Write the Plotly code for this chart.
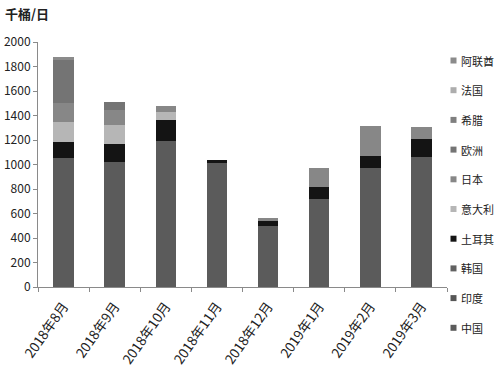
import plotly.graph_objects as go

months = ["2018年8月", "2018年9月", "2018年10月", "2018年11月", "2018年12月",
          "2019年1月", "2019年2月", "2019年3月"]

# stacked bottom -> top
china   = [1055, 1020, 1195, 1010, 497, 715, 970, 1065]
india   = [0, 0, 0, 0, 0, 0, 0, 0]
korea   = [0, 0, 0, 0, 0, 0, 0, 0]
turkey  = [130, 145, 165, 30, 38, 100, 100, 140]
italy   = [165, 158, 65, 0, 0, 0, 0, 0]
japan   = [150, 123, 55, 0, 28, 155, 245, 105]
europe  = [350, 65, 0, 0, 0, 0, 0, 0]
greece  = [0, 0, 0, 0, 0, 0, 0, 0]
france  = [0, 0, 0, 0, 0, 0, 0, 0]
uae     = [25, 0, 0, 0, 0, 0, 0, 0]

series_names = ["中国", "印度", "韩国", "土耳其", "意大利", "日本", "欧洲", "希腊", "法国", "阿联酋"]
series_values = [china, india, korea, turkey, italy, japan, europe, greece, france, uae]
series_colors = ["#5b5b5b", "#565656", "#616161", "#141414", "#b6b6b6",
                 "#878787", "#747474", "#7f7f7f", "#adadad", "#8b8b8b"]

yticks = [0, 200, 400, 600, 800, 1000, 1200, 1400, 1600, 1800, 2000]

FONT = "Noto Sans CJK SC"
W, H = 494, 370
ML, MR, MT, MB = 38, 47, 42, 83
PW, PH = W - ML - MR, H - MT - MB


def px_x(px):
    return (px - ML) / PW


def px_y(py):
    return (H - MB - py) / PH


fig = go.Figure()
for name, vals, col in zip(series_names, series_values, series_colors):
    fig.add_trace(go.Bar(x=months, y=vals, name=name, marker_color=col,
                         marker_line_width=0))

fig.update_layout(
    width=W, height=H,
    barmode="stack",
    bargap=0.6,
    plot_bgcolor="white", paper_bgcolor="white",
    margin=dict(l=ML, r=MR, t=MT, b=MB, autoexpand=False),
    font=dict(family=FONT, size=12, color="#222"),
    showlegend=False,
)

# legend drawn at the right, top to bottom = reverse of stacking order
for i, (name, col) in enumerate(zip(series_names[::-1], series_colors[::-1])):
    cy = 60.5 + 29.7 * i
    fig.add_shape(type="rect", xref="paper", yref="paper",
                  x0=px_x(450.5), x1=px_x(456.5), y0=px_y(cy + 3), y1=px_y(cy - 3),
                  fillcolor=col, line_width=0)
    fig.add_annotation(text=name, xref="paper", yref="paper",
                       x=px_x(458.5), y=px_y(cy), xanchor="left", yanchor="middle",
                       showarrow=False, font=dict(size=11, color="#222"))

fig.add_annotation(text="<b>千桶/日</b>", xref="paper", yref="paper",
                   x=px_x(3), y=px_y(14), xanchor="left", yanchor="middle",
                   showarrow=False, font=dict(size=13, color="#222"))

fig.update_xaxes(showline=True, linecolor="#8a8a8a", linewidth=1,
                 ticks="outside", tickson="boundaries", ticklen=4, tickcolor="#8a8a8a",
                 tickangle=-55, showgrid=False, tickfont=dict(size=13.5),
                 ticklabelstandoff=5)
fig.update_yaxes(range=[0, 2000], tickvals=yticks, showline=True, linecolor="#8a8a8a",
                 linewidth=1, ticks="outside", ticklen=4, tickcolor="#8a8a8a",
                 showgrid=False, zeroline=False, tickfont=dict(size=12))

fig.write_html("out.html", config={"displayModeBar": False},
               post_script="document.body.style.margin='0';document.body.style.padding='0';")
